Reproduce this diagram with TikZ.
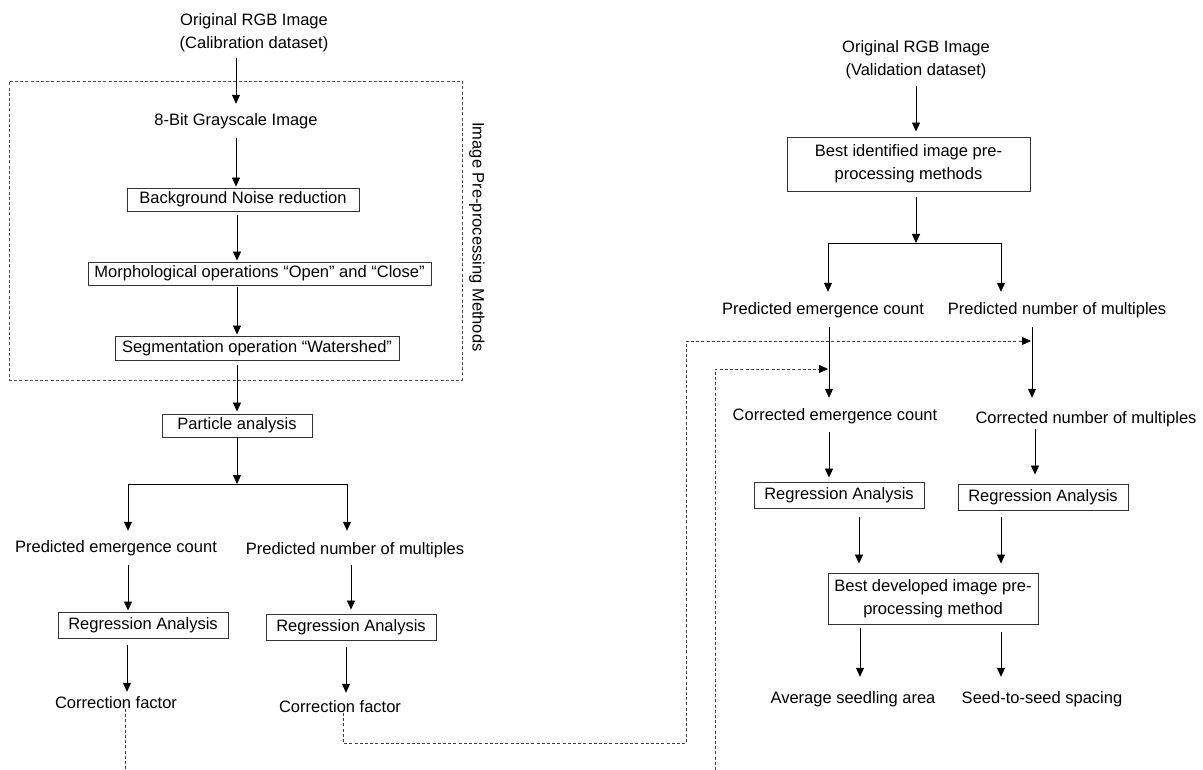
\documentclass[tikz,border=0pt]{standalone}
\usepackage{fontspec}
\setmainfont{Liberation Sans}
\usetikzlibrary{arrows.meta,calc}
\begin{document}
\begin{tikzpicture}[x=1pt,y=-1pt,
  every node/.style={font=\fontsize{16.5}{23}\selectfont},
  box/.style={draw=black!80, line width=0.9pt, inner sep=0pt, minimum height=24pt, align=center},
  lbl/.style={inner sep=0pt, minimum height=34pt, align=center},
  arr/.style={line width=0.8pt, -{Triangle[length=9pt,width=8pt]}},
  ln/.style={line width=0.8pt},
  dsh/.style={line width=0.8pt, black!75, dash pattern=on 3pt off 2.2pt},
  dsharr/.style={dsh, -{Triangle[length=9pt,width=8pt,color=black]}}
]
\useasboundingbox (0,0) rectangle (1203,770);

% ---------------- left column ----------------
\node[lbl, minimum height=51pt] (t1) at (254,32.5) {Original RGB Image\\(Calibration dataset)};
\node[draw=black!70, line width=0.8pt, dash pattern=on 3pt off 2.2pt, minimum width=453pt, minimum height=299pt, inner sep=0pt] (grp) at (235.5,230.5) {};
\node[rotate=-90, inner sep=0pt] (vt) at (477,237) {Image Pre-processing Methods};
\node[lbl] (gs) at (236,121) {8-Bit Grayscale Image};
\node[box, minimum width=232pt, minimum height=23pt] (bnr) at (243,199.5) {Background Noise reduction};
\node[box, minimum width=343pt, minimum height=23pt] (mor) at (259.5,273.5) {Morphological operations “Open” and “Close”};
\node[box, minimum width=284pt, minimum height=24pt] (seg) at (257,348) {Segmentation operation “Watershed”};
\node[box, minimum width=150pt, minimum height=23pt] (pa) at (237,425.5) {Particle analysis};
\coordinate (j1) at (237,484);
\node[lbl] (pec1) at (116,548) {Predicted emergence count};
\node[lbl, minimum height=38pt] (pnm1) at (355,550) {Predicted number of multiples};
\node[box, minimum width=170pt, minimum height=26pt] (ra1) at (143,625) {Regression Analysis};
\node[box, minimum width=170pt, minimum height=26pt] (ra2) at (351,627) {Regression Analysis};
\node[lbl, minimum height=22pt] (cf1) at (116,703) {Correction factor};
\node[lbl, minimum height=28pt] (cf2) at (340,707) {Correction factor};

\draw[arr] (t1.south -| 236,0) -- (gs.north -| 236,0);
\draw[arr] (gs.south -| 236,0) -- ([yshift=1pt]bnr.north -| 236,0);
\draw[arr] ([yshift=-4pt]bnr.south -| 237,0) -- ([yshift=1pt]mor.north -| 237,0);
\draw[arr] ([yshift=-2pt]mor.south -| 237,0) -- ([yshift=1pt]seg.north -| 237,0);
\draw[arr] ([yshift=-5pt]seg.south -| 237,0) -- ([yshift=2pt]pa.north -| 237,0);
\draw[arr] (pa.south) -- (j1);
\draw[ln] (j1) -- (347,484);
\draw[ln] (j1) -- (128,484);
\draw[arr] (128,484) -- (pec1.north -| 128,0);
\draw[arr] (347,484) -- (pnm1.north -| 347,0);
\draw[arr] (pec1.south -| 128,0) -- ([yshift=1pt]ra1.north -| 128,0);
\draw[arr] ([yshift=4pt]pnm1.south -| 351,0) -- ([yshift=4pt]ra2.north -| 351,0);
\draw[arr] ([yshift=-7pt]ra1.south -| 127,0) -- (cf1.north -| 127,0);
\draw[arr] ([yshift=-7pt]ra2.south -| 346,0) -- (cf2.north -| 346,0);

% ---------------- right column ----------------
\node[lbl, minimum height=52pt] (t2) at (916,60) {Original RGB Image\\(Validation dataset)};
\node[box, minimum width=243pt, minimum height=54pt] (bi) at (908.5,164) {Best identified image pre-\\processing methods};
\coordinate (j2) at (916,243);
\node[lbl, minimum height=36pt] (pec2) at (823,310) {Predicted emergence count};
\node[lbl, minimum height=36pt] (pnm2) at (1057,310) {Predicted number of multiples};
\node[lbl, minimum height=36pt] (cec) at (835,416) {Corrected emergence count};
\node[lbl, minimum height=42pt] (cnm) at (1086,419) {Corrected number of multiples};
\node[box, minimum width=170pt, minimum height=26pt] (ra3) at (839,495) {Regression Analysis};
\node[box, minimum width=170pt, minimum height=26pt] (ra4) at (1043,497) {Regression Analysis};
\node[box, minimum width=210pt, minimum height=51pt] (bd) at (933,598.5) {Best developed image pre-\\processing method};
\node[lbl, minimum height=44pt] (avg) at (853,699) {Average seedling area};
\node[lbl, minimum height=44pt] (sss) at (1042,699) {Seed-to-seed spacing};

\draw[arr] (t2.south -| 916,0) -- ([yshift=5pt]bi.north -| 916,0);
\draw[arr] ([yshift=-6pt]bi.south -| 916,0) -- (j2);
\draw[ln] (j2) -- (828,243);
\draw[ln] (j2) -- (1001,243);
\draw[arr] (828,243) -- (pec2.north -| 828,0);
\draw[arr] (1001,243) -- (pnm2.north -| 1001,0);
\draw[arr] ([yshift=1pt]pec2.south -| 829,0) -- (cec.north -| 829,0);
\draw[arr] ([yshift=1pt]pnm2.south -| 1032,0) -- (cnm.north -| 1032,0);
\draw[arr] ([yshift=2pt]cec.south -| 829,0) -- ([yshift=4pt]ra3.north -| 829,0);
\draw[arr] ([yshift=11pt]cnm.south -| 1035,0) -- ([yshift=9pt]ra4.north -| 1035,0);
\draw[arr] ([yshift=-9pt]ra3.south -| 859,0) -- ([yshift=9pt]bd.north -| 859,0);
\draw[arr] ([yshift=-7pt]ra4.south -| 1001,0) -- ([yshift=9pt]bd.north -| 1001,0);
\draw[arr] ([yshift=-4pt]bd.south -| 860,0) -- (avg.north -| 860,0);
\draw[arr] ([yshift=-8pt]bd.south -| 1001,0) -- (sss.north -| 1001,0);

% ---------------- dashed feedback connectors ----------------
\coordinate (d1) at (125,770);
\coordinate (d2) at (715,770);
\coordinate (in1) at (828,369);
\coordinate (in2) at (1031,341);
\draw[dsh] (cf1.base -| 125,0) -- (d1);
\draw[dsharr] (cf2.base -| 343,0) |- (686,743) |- (in2);
\draw[dsharr] (d2) |- (in1);
\end{tikzpicture}
\end{document}
